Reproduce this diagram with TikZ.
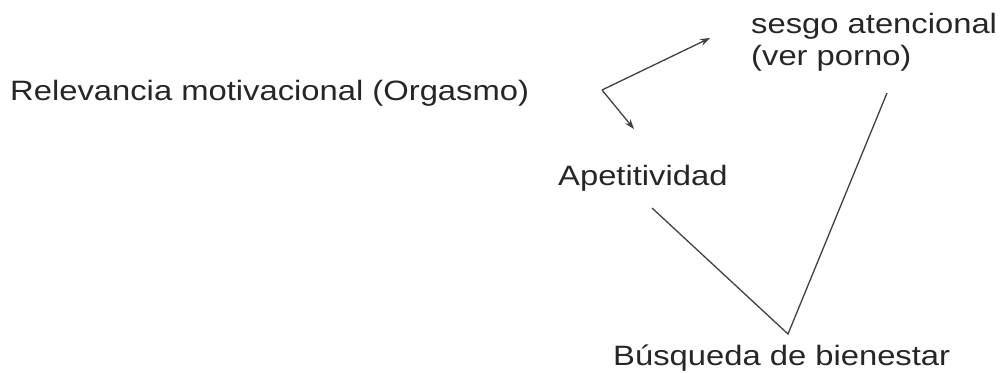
\documentclass[tikz,border=0pt]{standalone}
\usepackage{fontspec}
\setmainfont{Liberation Sans}[FakeStretch=1.17]
\usetikzlibrary{arrows.meta}

\tikzset{
  label/.style={anchor=base west, inner sep=0pt, text=black!85,
    font=\fontsize{28}{32}\selectfont},
  link/.style={draw=black!75, line width=1.3pt},
  arrowlink/.style={link, -{Stealth[length=10pt,width=7pt]}}
}

\begin{document}
\begin{tikzpicture}[x=1pt,y=-1pt]
\useasboundingbox (0,0) rectangle (1003,372);

\node[label] (relevancia) at (10,100) {Relevancia motivacional (Orgasmo)};
\node[label] (sesgo) at (751,33) {sesgo atencional};
\node[label] (porno) at (751,65) {(ver porno)};
\node[label] (apetitividad) at (558,185) {Apetitividad};
\node[label] (busqueda) at (613,365) {Búsqueda de bienestar};

\coordinate (fork) at (602,90);
\coordinate (toSesgo) at (710,38);
\coordinate (toApet) at (634,129);
\coordinate (apetEnd) at (652,208);
\coordinate (sesgoEnd) at (887,93);
\coordinate (bottom) at (788,334);

\draw[arrowlink] (fork) -- (toSesgo);
\draw[arrowlink] (fork) -- (toApet);
\draw[link] (apetEnd) -- (bottom) -- (sesgoEnd);
\end{tikzpicture}
\end{document}
